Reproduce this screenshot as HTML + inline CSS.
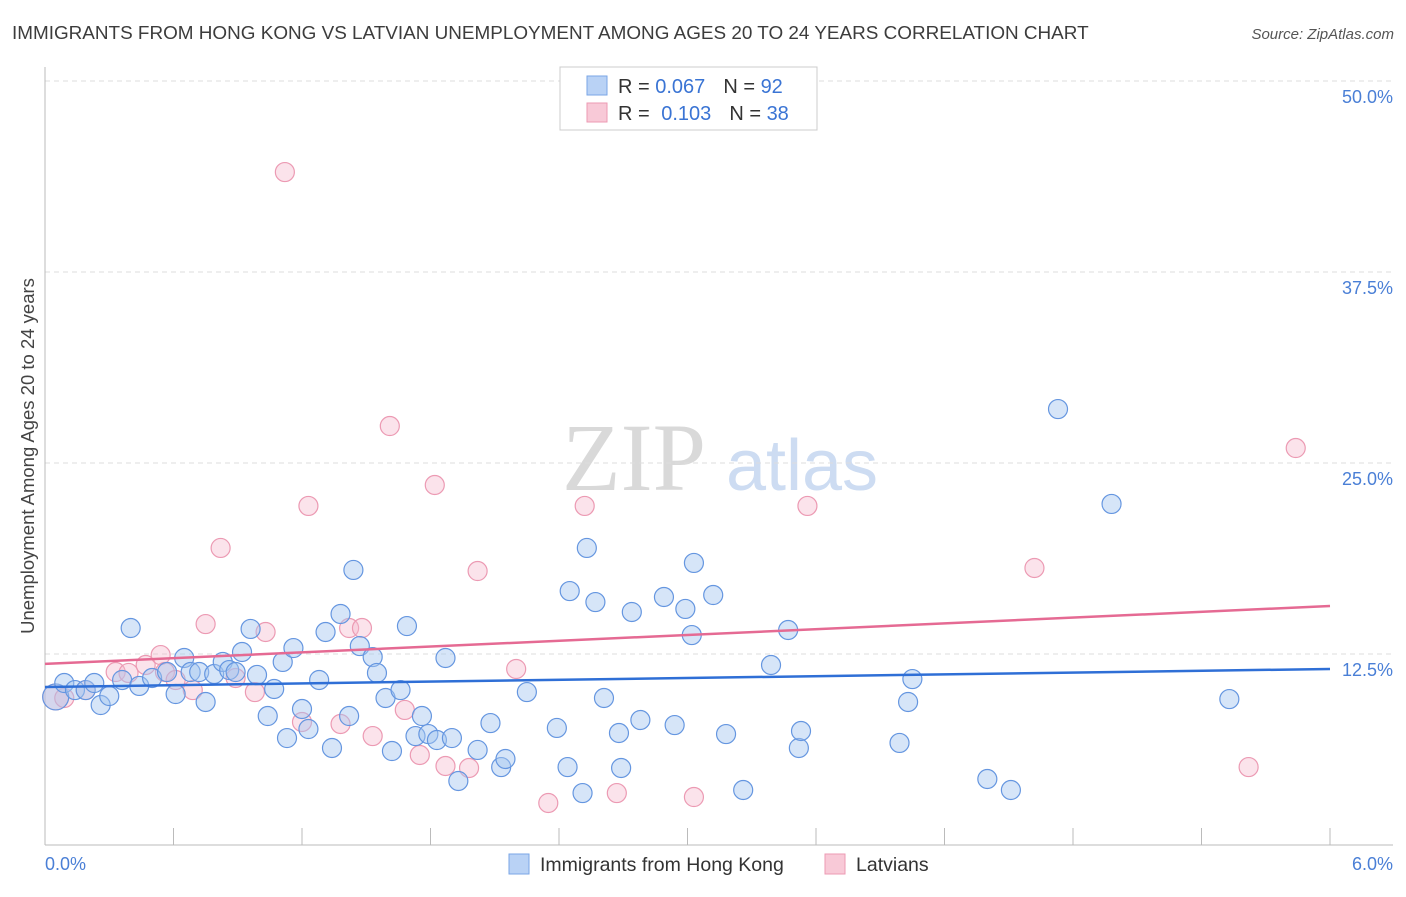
<!DOCTYPE html>
<html><head><meta charset="utf-8">
<style>
body{margin:0;background:#fff;font-family:"Liberation Sans",sans-serif;}
</style></head>
<body>
<svg id="chart" width="1406" height="892" viewBox="0 0 1406 892" xmlns="http://www.w3.org/2000/svg" font-family="Liberation Sans, sans-serif">
<text x="12" y="39" font-size="18.9" fill="#3c3c3c">IMMIGRANTS FROM HONG KONG VS LATVIAN UNEMPLOYMENT AMONG AGES 20 TO 24 YEARS CORRELATION CHART</text>
<text x="1394" y="39" font-size="15" fill="#555" text-anchor="end" font-style="italic">Source: ZipAtlas.com</text>
<g>
<text x="634" y="490" font-size="96" fill="#d9d9d9" text-anchor="middle" style="font-family:'Liberation Serif',serif">ZIP</text>
<text x="802" y="490" font-size="72" fill="#cddcf2" text-anchor="middle">atlas</text>
</g>
<g id="grid"></g>
<line x1="45" y1="67" x2="45" y2="845" stroke="#bbb" stroke-width="1"/>
<line x1="45" y1="845" x2="1393" y2="845" stroke="#bbb" stroke-width="1"/>
<text transform="translate(34,456) rotate(-90)" font-size="18.5" fill="#444" text-anchor="middle">Unemployment Among Ages 20 to 24 years</text>
<text x="45" y="870" font-size="18" fill="#4a7fd6">0.0%</text>
<text x="1393" y="870" font-size="18" fill="#4a7fd6" text-anchor="end">6.0%</text>
<g id="points"></g>
<g id="trends"></g>
<g>
<rect x="560" y="67" width="257" height="63" fill="#fff" stroke="#ccc"/>
<rect x="587" y="76" width="20" height="19" fill="#b9d2f5" stroke="#7aa6e6"/>
<rect x="587" y="103" width="20" height="19" fill="#f8c9d7" stroke="#ec9ab3"/>
<text x="618" y="93" font-size="20" fill="#333">R = <tspan fill="#3a74d4">0.067</tspan><tspan dx="18">N = </tspan><tspan fill="#3a74d4">92</tspan></text>
<text x="618" y="120" font-size="20" fill="#333">R = <tspan fill="#3a74d4" dx="6">0.103</tspan><tspan dx="18">N = </tspan><tspan fill="#3a74d4">38</tspan></text>
</g>
<g>
<rect x="509" y="854" width="20" height="20" fill="#b9d2f5" stroke="#7aa6e6"/>
<text x="540" y="871" font-size="19.5" fill="#333">Immigrants from Hong Kong</text>
<rect x="825" y="854" width="20" height="20" fill="#f8c9d7" stroke="#ec9ab3"/>
<text x="856" y="871" font-size="19.5" fill="#333">Latvians</text>
</g>
</svg>
<script>
const yTicks=[12.5,25,37.5,50];
const yTickLabels=["12.5%","25.0%","37.5%","50.0%"];
const xTicks=[0.6,1.2,1.8,2.4,3.0,3.6,4.2,4.8,5.4,6.0];
const blueX=[0.05,0.09,0.14,0.19,0.23,0.26,0.30,0.36,0.40,0.44,0.50,0.57,0.61,0.65,0.68,0.72,0.75,0.79,0.83,0.86,0.89,0.92,0.96,0.99,1.04,1.07,1.11,1.13,1.16,1.20,1.23,1.28,1.31,1.34,1.38,1.42,1.44,1.47,1.53,1.55,1.59,1.62,1.66,1.69,1.73,1.76,1.79,1.83,1.87,1.90,1.93,2.02,2.08,2.13,2.15,2.25,2.39,2.44,2.45,2.51,2.53,2.57,2.61,2.68,2.69,2.74,2.78,2.89,2.94,2.99,3.02,3.03,3.12,3.18,3.26,3.39,3.47,3.52,3.53,3.99,4.03,4.05,4.40,4.51,4.73,4.98,5.53];
const blueY=[9.69,10.60,10.14,10.14,10.60,9.16,9.75,10.80,14.20,10.41,10.93,11.32,9.88,12.24,11.32,11.32,9.36,11.19,11.98,11.45,11.32,12.63,14.14,11.13,8.44,10.21,11.98,7.00,12.89,8.90,7.59,10.80,13.94,6.35,15.12,8.44,18.00,13.02,12.30,11.26,9.62,6.15,10.14,14.33,7.13,8.44,7.26,6.87,12.24,7.00,4.19,6.22,7.98,5.10,5.63,10.01,7.66,5.10,16.62,3.40,19.44,15.90,9.62,7.33,5.04,15.25,8.18,16.23,7.85,15.45,13.74,18.46,16.36,7.26,3.60,11.78,14.07,6.35,7.46,6.68,9.36,10.86,4.32,3.60,28.53,22.32,9.55];
const pinkX=[0.05,0.09,0.19,0.33,0.39,0.47,0.54,0.56,0.61,0.69,0.75,0.82,0.89,0.98,1.03,1.12,1.20,1.23,1.38,1.42,1.48,1.53,1.61,1.68,1.75,1.82,1.87,1.98,2.02,2.20,2.35,2.52,2.67,3.03,3.56,4.62,5.62,5.84];
const pinkY=[9.69,9.62,10.14,11.32,11.26,11.78,12.43,11.32,10.80,10.14,14.46,19.44,10.93,10.01,13.94,44.04,8.05,22.19,7.92,14.20,14.20,7.13,27.42,8.84,5.89,23.56,5.17,5.04,17.93,11.52,2.75,22.19,3.40,3.14,22.19,18.13,5.10,25.98];
const blueTrend=[10.34,11.52];
const pinkTrend=[11.85,15.64];
const NS="http://www.w3.org/2000/svg";
const X=v=>45+v/6*1285;
const Y=v=>845-v*15.28;
const grid=document.getElementById('grid');
yTicks.forEach((t,i)=>{
  const l=document.createElementNS(NS,'line');
  
  
  l.setAttribute('x1',45);l.setAttribute('x2',1393);
  l.setAttribute('y1',Y(t));l.setAttribute('y2',Y(t));
  l.setAttribute('stroke','#ddd');l.setAttribute('stroke-dasharray','5,4');
  grid.appendChild(l);
  const tx=document.createElementNS(NS,'text');
  
  
  tx.setAttribute('x',1393);tx.setAttribute('y',Y(t)+22);
  tx.setAttribute('text-anchor','end');tx.setAttribute('font-size','18');tx.setAttribute('fill','#4a7fd6');
  tx.textContent=yTickLabels[i];
  grid.appendChild(tx);
});
xTicks.forEach(t=>{
  const l=document.createElementNS(NS,'line');
  
  
  l.setAttribute('x1',X(t));l.setAttribute('x2',X(t));
  l.setAttribute('y1',828);l.setAttribute('y2',845);
  l.setAttribute('stroke','#bbb');
  grid.appendChild(l);
});
const pts=document.getElementById('points');
function dots(xs,ys,fill,stroke,name){
  xs.forEach((x,i)=>{
    const c=document.createElementNS(NS,'circle');
    
    
    c.setAttribute('cx',X(x));c.setAttribute('cy',Y(ys[i]));
    c.setAttribute('r',i===0?13:9.5);
    c.setAttribute('fill',fill);c.setAttribute('stroke',stroke);c.setAttribute('stroke-width','1.2');
    pts.appendChild(c);
  });
}
dots(pinkX,pinkY,'rgba(246,184,204,0.4)','#ec9ab3','latvian-point');
dots(blueX,blueY,'rgba(165,198,240,0.45)','#6596e0','hong-kong-point');
const tr=document.getElementById('trends');
function trend(v,color,name){
  const l=document.createElementNS(NS,'line');
  
  
  l.setAttribute('x1',X(0));l.setAttribute('x2',X(6));
  l.setAttribute('y1',Y(v[0]));l.setAttribute('y2',Y(v[1]));
  l.setAttribute('stroke',color);l.setAttribute('stroke-width','2.5');
  tr.appendChild(l);
}
trend(pinkTrend,'#e56a93','latvian-trend-line');
trend(blueTrend,'#2f6fd6','hong-kong-trend-line');
</script>
</body></html>
